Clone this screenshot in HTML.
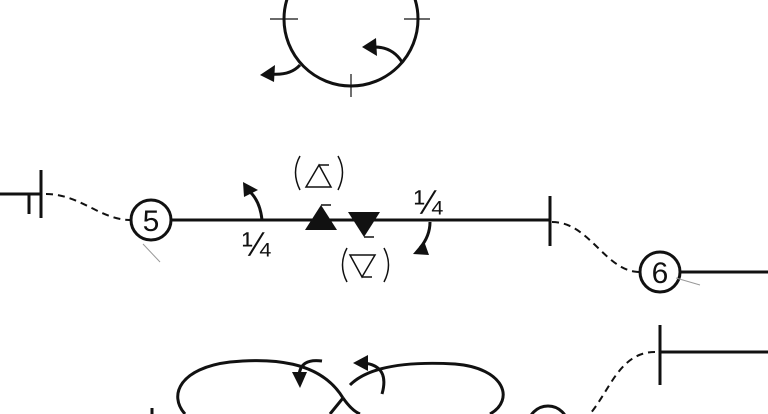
<!DOCTYPE html>
<html><head><style>html,body{margin:0;background:#fff;width:768px;height:414px;overflow:hidden}svg{display:block}</style></head>
<body>
<svg width="768" height="414" viewBox="0 0 768 414" xmlns="http://www.w3.org/2000/svg" font-family="Liberation Sans, sans-serif">
<g fill="none" stroke="#111" stroke-width="3">
<circle cx="351" cy="19" r="67"/>
<path d="M300 65 Q290 76 270 74"/>
<path d="M402 62 Q392 46 372 47"/>
<line x1="171" y1="220" x2="550" y2="220"/>
<circle cx="151" cy="220" r="20"/>
<line x1="550" y1="196" x2="550" y2="246"/>
<line x1="0" y1="194" x2="42" y2="194"/>
<line x1="41" y1="170" x2="41" y2="218"/>
<line x1="29" y1="194" x2="29" y2="214"/>
<path d="M262 220 Q260 200 248 190"/>
<path d="M430 222 Q430 236 420 248"/>
<line x1="680" y1="272" x2="768" y2="272"/>
<circle cx="660" cy="272" r="20"/>
<path d="M343 398 C320 360 270 358 230 362 C180 368 168 395 185 414"/>
<path d="M330 414 L343 398"/>
<path d="M350 385 C372 363 420 362 455 364 C505 368 515 400 490 414"/>
<path d="M343 398 C350 408 355 412 360 414"/>
<path d="M322 361 Q300 358 299 376"/>
<path d="M382 394 Q390 366 364 363"/>
<line x1="660" y1="325" x2="660" y2="385"/>
<line x1="660" y1="352" x2="768" y2="352"/>
<circle cx="548" cy="426" r="20"/>
<line x1="152" y1="408" x2="152" y2="414"/>
</g>
<g stroke="#111" stroke-width="1.2">
<line x1="270" y1="19" x2="298" y2="19"/>
<line x1="404" y1="19" x2="430" y2="19"/>
<line x1="351" y1="74" x2="351" y2="97"/>
<line x1="143" y1="244" x2="160" y2="262" stroke="#999" stroke-width="1"/>
<line x1="676" y1="278" x2="700" y2="285" stroke="#999" stroke-width="1"/>
</g>
<g fill="none" stroke="#111" stroke-width="2" stroke-dasharray="7,5">
<path d="M46 194 C80 194 100 220 131 220"/>
<path d="M552 222 C590 222 605 272 640 272"/>
<path d="M655 352 C620 352 610 390 590 414"/>
</g>
<g fill="#111">
<polygon points="260,75 275,65 274,82"/>
<polygon points="362,47 376,38 377,56"/>
<polygon points="243,182 258,190 244,197"/>
<polygon points="413,254 424,241 429,255"/>
<polygon points="305,230 337,230 321,205"/>
<polygon points="348,212 380,212 364,237"/>
<polygon points="292,372 307,372 300,388"/>
<polygon points="353,363 368,355 368,371"/>
</g>
<g stroke="#111" stroke-width="1.5" fill="none">
<path d="M321 205 L331 205"/>
<path d="M364 237 L374 237"/>
<polygon points="306,187 331,187 319,165"/>
<path d="M319 165 L329 165"/>
<polygon points="350,255 375,255 362,277"/>
<path d="M362 277 L372 277"/>
<path d="M300 156 Q291 172 300 190"/>
<path d="M338 156 Q347 172 338 190"/>
<path d="M347 248 Q338 265 347 282"/>
<path d="M384 248 Q393 265 384 282"/>
</g>
<g fill="#111" font-size="30" text-anchor="middle">
<text x="151" y="231">5</text>
<text x="660" y="283">6</text>
</g>
<g fill="#111" font-size="34">
<text x="242" y="256">¼</text>
<text x="414" y="214">¼</text>
</g>
</svg>
</body></html>
